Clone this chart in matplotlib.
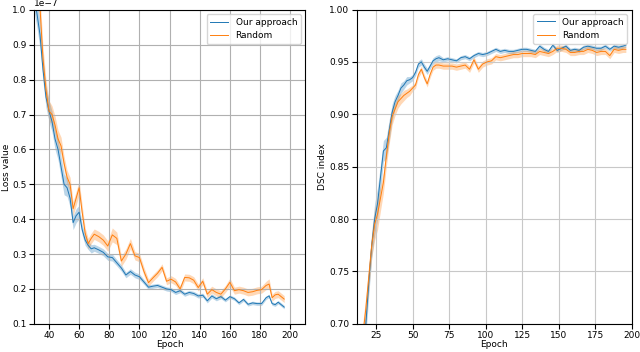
import numpy as np
import matplotlib
matplotlib.use("Agg")
import matplotlib.pyplot as plt

# ---- loss panel (values in units of 1e-7)
loss_epochs = [30, 32, 34, 36, 38, 40, 42, 44, 46, 48, 50, 52, 54, 56, 58, 60, 62, 64, 66, 68,
               70, 73, 76, 79, 82, 85, 88, 91, 94, 97, 100, 103, 106, 109, 112, 115, 118, 121,
               124, 127, 130, 133, 136, 139, 142, 145, 148, 151, 154, 157, 160, 163, 166, 169,
               172, 175, 178, 181, 184, 186, 188, 190, 192, 194, 196]
loss_ours = [1.04, 0.99, 0.93, 0.83, 0.75, 0.71, 0.68, 0.63, 0.60, 0.55, 0.50, 0.49, 0.46, 0.39,
             0.41, 0.42, 0.37, 0.34, 0.325, 0.315, 0.318, 0.312, 0.305, 0.292, 0.29, 0.275, 0.26,
             0.24, 0.25, 0.24, 0.235, 0.22, 0.205, 0.208, 0.21, 0.205, 0.2, 0.198, 0.19, 0.195,
             0.185, 0.19, 0.187, 0.18, 0.182, 0.166, 0.18, 0.172, 0.178, 0.168, 0.178, 0.172,
             0.16, 0.17, 0.156, 0.16, 0.158, 0.158, 0.175, 0.18, 0.158, 0.155, 0.162, 0.155, 0.148]
loss_rand = [1.10, 1.07, 1.01, 0.86, 0.77, 0.71, 0.70, 0.67, 0.63, 0.61, 0.56, 0.52, 0.50, 0.43,
             0.46, 0.49, 0.42, 0.36, 0.33, 0.345, 0.357, 0.35, 0.34, 0.323, 0.355, 0.345, 0.28,
             0.30, 0.33, 0.295, 0.29, 0.25, 0.218, 0.232, 0.245, 0.262, 0.222, 0.228, 0.22, 0.2,
             0.233, 0.232, 0.225, 0.204, 0.222, 0.185, 0.198, 0.19, 0.185, 0.2, 0.219, 0.195,
             0.198, 0.195, 0.19, 0.192, 0.196, 0.198, 0.21, 0.214, 0.175, 0.183, 0.185, 0.178, 0.171]
loss_ours_sd = [0.04, 0.04, 0.04, 0.035, 0.03, 0.03, 0.03, 0.03, 0.03, 0.03, 0.03, 0.025, 0.025,
                0.02, 0.02, 0.02, 0.015, 0.015, 0.012, 0.012, 0.01, 0.01, 0.01, 0.01, 0.01, 0.009,
                0.009, 0.008, 0.008, 0.008, 0.008, 0.007, 0.007, 0.006, 0.006, 0.006, 0.006, 0.006,
                0.006, 0.006, 0.006, 0.006, 0.006, 0.006, 0.006, 0.006, 0.006, 0.006, 0.006, 0.005,
                0.005, 0.005, 0.005, 0.005, 0.005, 0.005, 0.005, 0.005, 0.005, 0.005, 0.005, 0.005,
                0.005, 0.005, 0.005]
loss_rand_sd = [0.04, 0.04, 0.04, 0.035, 0.03, 0.03, 0.025, 0.025, 0.025, 0.025, 0.02, 0.02, 0.02,
                0.02, 0.02, 0.02, 0.02, 0.015, 0.015, 0.015, 0.015, 0.015, 0.015, 0.015, 0.02,
                0.018, 0.015, 0.015, 0.015, 0.012, 0.012, 0.012, 0.01, 0.01, 0.01, 0.01, 0.01, 0.01,
                0.01, 0.01, 0.01, 0.01, 0.01, 0.01, 0.01, 0.01, 0.01, 0.01, 0.01, 0.01, 0.012, 0.01,
                0.01, 0.01, 0.01, 0.01, 0.01, 0.01, 0.012, 0.015, 0.01, 0.01, 0.01, 0.01, 0.01]

# ---- DSC panel
dsc_epochs = [14, 16, 18, 20, 22, 24, 26, 28, 30, 32, 34, 36, 38, 40, 42, 44, 46, 48, 50, 52, 54,
              56, 58, 60, 62, 64, 66, 68, 71, 74, 77, 80, 83, 86, 89, 92, 95, 98, 101, 104, 107,
              110, 113, 116, 119, 122, 125, 128, 131, 134, 137, 140, 143, 146, 149, 152, 155, 158,
              161, 164, 167, 170, 173, 176, 179, 182, 185, 188, 191, 194, 196]
dsc_ours = [0.66, 0.68, 0.70, 0.74, 0.775, 0.80, 0.815, 0.84, 0.865, 0.868, 0.885, 0.902, 0.912,
            0.918, 0.925, 0.928, 0.932, 0.933, 0.935, 0.94, 0.948, 0.95, 0.945, 0.941, 0.946,
            0.951, 0.953, 0.954, 0.952, 0.953, 0.952, 0.951, 0.954, 0.955, 0.953, 0.956, 0.958,
            0.957, 0.958, 0.96, 0.962, 0.96, 0.961, 0.96, 0.96, 0.961, 0.962, 0.962, 0.961, 0.96,
            0.965, 0.962, 0.96, 0.966, 0.961, 0.963, 0.965, 0.961, 0.962, 0.961, 0.964, 0.965,
            0.964, 0.963, 0.963, 0.965, 0.962, 0.965, 0.964, 0.965, 0.966]
dsc_rand = [0.65, 0.69, 0.715, 0.745, 0.775, 0.795, 0.805, 0.82, 0.835, 0.86, 0.882, 0.898, 0.905,
            0.912, 0.915, 0.918, 0.92, 0.922, 0.925, 0.928, 0.938, 0.943, 0.935, 0.929, 0.938,
            0.945, 0.947, 0.947, 0.946, 0.946, 0.946, 0.945, 0.946, 0.947, 0.943, 0.952, 0.943,
            0.948, 0.95, 0.951, 0.955, 0.954, 0.955, 0.956, 0.957, 0.957, 0.958, 0.958, 0.958,
            0.957, 0.96, 0.959, 0.958, 0.96, 0.963, 0.963, 0.962, 0.959, 0.959, 0.96, 0.96, 0.962,
            0.961, 0.959, 0.96, 0.96, 0.956, 0.962, 0.961, 0.962, 0.962]
dsc_ours_sd = [0.012, 0.012, 0.012, 0.012, 0.012, 0.015, 0.015, 0.012, 0.01, 0.01, 0.01, 0.008,
               0.006, 0.005, 0.005, 0.004, 0.004, 0.003, 0.003, 0.003, 0.003, 0.003, 0.003, 0.003,
               0.003, 0.003, 0.003, 0.003, 0.002, 0.002, 0.002, 0.002, 0.002, 0.002, 0.002, 0.002,
               0.002, 0.002, 0.002, 0.002, 0.002, 0.002, 0.002, 0.002, 0.002, 0.002, 0.002, 0.002,
               0.002, 0.002, 0.002, 0.002, 0.002, 0.002, 0.002, 0.002, 0.002, 0.002, 0.002, 0.002,
               0.002, 0.002, 0.002, 0.002, 0.002, 0.002, 0.002, 0.002, 0.002, 0.002, 0.002]
dsc_rand_sd = [0.012, 0.012, 0.012, 0.012, 0.012, 0.015, 0.015, 0.012, 0.01, 0.01, 0.01, 0.008,
               0.006, 0.006, 0.005, 0.005, 0.004, 0.004, 0.003, 0.003, 0.003, 0.003, 0.003, 0.003,
               0.003, 0.003, 0.003, 0.003, 0.003, 0.003, 0.003, 0.003, 0.003, 0.003, 0.003, 0.003,
               0.003, 0.003, 0.003, 0.003, 0.003, 0.003, 0.003, 0.003, 0.003, 0.003, 0.003, 0.003,
               0.003, 0.003, 0.003, 0.003, 0.003, 0.003, 0.003, 0.003, 0.003, 0.003, 0.003, 0.003,
               0.003, 0.003, 0.003, 0.003, 0.003, 0.003, 0.003, 0.003, 0.003, 0.003, 0.003]

plt.rcParams["font.size"] = 6.5
blue, orange = "#1f77b4", "#ff7f0e"

fig = plt.figure(figsize=(6.4, 3.52), dpi=100)
ax1 = fig.add_axes([0.053, 0.080, 0.424, 0.892])
ax2 = fig.add_axes([0.558, 0.080, 0.429, 0.893])


def band(ax, x, y, sd, color, label, scale=1.0):
    x = np.asarray(x)
    y = np.asarray(y) * scale
    sd = np.asarray(sd) * scale
    ax.fill_between(x, y - sd, y + sd, color=color, alpha=0.3, lw=0)
    ax.plot(x, y, color=color, lw=0.7, label=label)


band(ax1, loss_epochs, loss_ours, loss_ours_sd, blue, "Our approach", 1e-7)
band(ax1, loss_epochs, loss_rand, loss_rand_sd, orange, "Random", 1e-7)
ax1.set_xlim(30, 210)
ax1.set_ylim(0.1e-7, 1.0e-7)
ax1.set_xticks(np.arange(40, 201, 20))
ax1.set_yticks(np.arange(1, 11) * 1e-8)
ax1.set_xlabel("Epoch", labelpad=0)
ax1.set_ylabel("Loss value", labelpad=1)
ax1.tick_params(labelsize=6.5, pad=2)
ax1.grid(True, color="#b0b0b0", lw=0.8)
ax1.legend(loc="upper right", fontsize=6.5)

band(ax2, dsc_epochs, dsc_ours, dsc_ours_sd, blue, "Our approach")
band(ax2, dsc_epochs, dsc_rand, dsc_rand_sd, orange, "Random")
ax2.set_xlim(12, 200)
ax2.set_ylim(0.70, 1.00)
ax2.set_xticks(np.arange(25, 201, 25))
ax2.set_yticks(np.arange(0.70, 1.001, 0.05))
ax2.yaxis.set_major_formatter(matplotlib.ticker.FormatStrFormatter("%.2f"))
ax2.set_xlabel("Epoch", labelpad=0)
ax2.set_ylabel("DSC index", labelpad=2)
ax2.tick_params(labelsize=6.5, pad=2)
ax2.grid(True, color="#c8c8c8", lw=0.8)
ax2.legend(loc="upper right", fontsize=6.5)

fig.savefig("out.png", dpi=100)
